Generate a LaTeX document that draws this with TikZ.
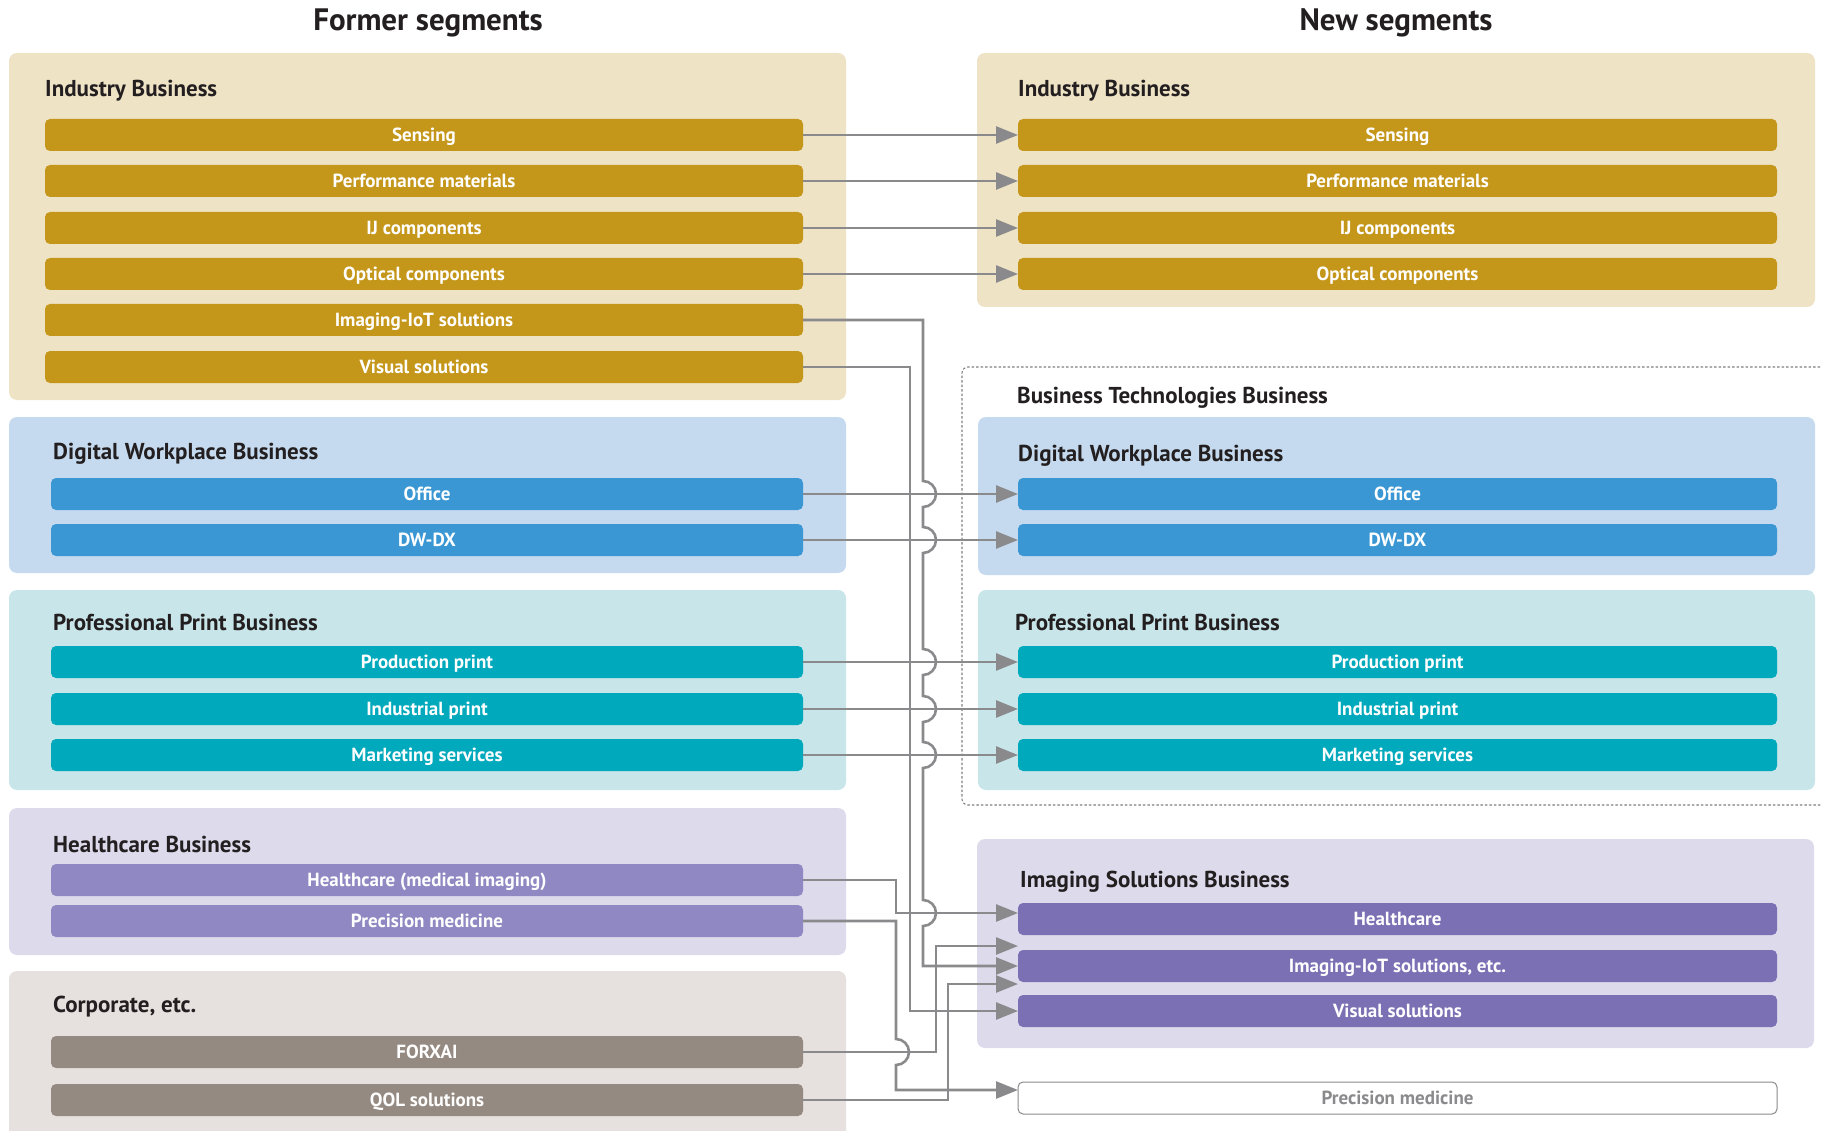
\documentclass[tikz,border=0pt]{standalone}
\usepackage{fontspec}
\setmainfont{PT Sans}
\usetikzlibrary{arrows.meta}
\definecolor{indbg}{HTML}{EFE3C6}
\definecolor{indbar}{HTML}{C4961A}
\definecolor{dwbg}{HTML}{C5DAEE}
\definecolor{dwbar}{HTML}{3A97D3}
\definecolor{ppbg}{HTML}{C8E6EA}
\definecolor{ppbar}{HTML}{00A9BC}
\definecolor{hcbg}{HTML}{DDDAEC}
\definecolor{hcbar}{HTML}{9088C2}
\definecolor{isbar}{HTML}{7B70B3}
\definecolor{cobg}{HTML}{E6E1DE}
\definecolor{cobar}{HTML}{958A82}
\definecolor{connc}{HTML}{8A8A8C}
\definecolor{ink}{HTML}{231F20}
\begin{document}
\begin{tikzpicture}[x=1pt,y=-1pt,
  grp/.style={rounded corners=8pt, inner sep=0pt, outer sep=0pt, anchor=north west, draw=none},
  sbar/.style={rounded corners=5pt, minimum height=32pt, inner sep=0pt, outer sep=0pt, text=white, font=\bfseries\fontsize{19}{22}\selectfont, text height=13pt, text depth=0pt, anchor=center},
  lbar/.style={sbar, minimum width=752pt},
  libar/.style={sbar, minimum width=758pt},
  rbar/.style={sbar, minimum width=759pt},
  gtitle/.style={anchor=west, inner sep=0pt, text=ink, font=\bfseries\fontsize{23}{27}\selectfont, text height=16pt, text depth=0pt},
  htitle/.style={anchor=center, inner sep=0pt, text=ink, font=\bfseries\fontsize{31}{36}\selectfont, text height=22pt, text depth=0pt},
  link/.style={draw=connc, line width=2.6pt, -{Triangle[length=22pt,width=17pt]}},
]
\useasboundingbox (0,0) rectangle (1822,1131);
\clip (0,0) rectangle (1822,1131);

% headers
\node[htitle] (hFormer) at (428,20) {Former segments};
\node[htitle] (hNew) at (1396,20) {New segments};

% left group boxes
\node[grp, fill=indbg, minimum width=837pt, minimum height=347pt] (lIndBox) at (9,53) {};
\node[grp, fill=dwbg, minimum width=837pt, minimum height=156pt] (lDWBox) at (9,417) {};
\node[grp, fill=ppbg, minimum width=837pt, minimum height=200pt] (lPPBox) at (9,590) {};
\node[grp, fill=hcbg, minimum width=837pt, minimum height=147pt] (lHCBox) at (9,808) {};
\node[grp, fill=cobg, minimum width=837pt, minimum height=180pt] (lCoBox) at (9,971) {};

% right group boxes
\node[grp, fill=indbg, minimum width=838pt, minimum height=254pt] (rIndBox) at (977,53) {};
\node[grp, draw=gray, dash pattern=on 2.5pt off 2pt, line width=1.1pt, rounded corners=6pt, minimum width=900pt, minimum height=438pt] (btBox) at (962,367) {};
\node[grp, fill=dwbg, minimum width=837pt, minimum height=158pt] (rDWBox) at (978,417) {};
\node[grp, fill=ppbg, minimum width=837pt, minimum height=200pt] (rPPBox) at (978,590) {};
\node[grp, fill=hcbg, minimum width=837pt, minimum height=209pt] (rISBox) at (977,839) {};

% titles
\node[gtitle] (tLInd) at (45,89) {Industry Business};
\node[gtitle] (tLDW) at (53,451) {Digital Workplace Business};
\node[gtitle] (tLPP) at (53,622) {Professional Print Business};
\node[gtitle] (tLHC) at (53,844) {Healthcare Business};
\node[gtitle] (tLCo) at (53,1004) {Corporate, etc.};
\node[gtitle] (tRInd) at (1018,89) {Industry Business};
\node[gtitle] (tRBT) at (1017,395) {Business Technologies Business};
\node[gtitle] (tRDW) at (1018,453) {Digital Workplace Business};
\node[gtitle] (tRPP) at (1015,622) {Professional Print Business};
\node[gtitle] (tRIS) at (1020,879) {Imaging Solutions Business};

% left bars
\node[libar, fill=indbar] (lSens) at (424,135) {Sensing};
\node[libar, fill=indbar] (lPerf) at (424,181) {Performance materials};
\node[libar, fill=indbar] (lIJ) at (424,228) {IJ components};
\node[libar, fill=indbar] (lOpt) at (424,274) {Optical components};
\node[libar, fill=indbar] (lIoT) at (424,320) {Imaging-IoT solutions};
\node[libar, fill=indbar] (lVis) at (424,367) {Visual solutions};
\node[lbar, fill=dwbar] (lOff) at (427,494) {Office};
\node[lbar, fill=dwbar] (lDX) at (427,540) {DW-DX};
\node[lbar, fill=ppbar] (lProd) at (427,662) {Production print};
\node[lbar, fill=ppbar] (lInd) at (427,709) {Industrial print};
\node[lbar, fill=ppbar] (lMkt) at (427,755) {Marketing services};
\node[lbar, fill=hcbar] (lHC) at (427,880) {Healthcare (medical imaging)};
\node[lbar, fill=hcbar] (lPrec) at (427,921) {Precision medicine};
\node[lbar, fill=cobar] (lFOR) at (427,1052) {FORXAI};
\node[lbar, fill=cobar] (lQOL) at (427,1100) {QOL solutions};

% right bars
\node[rbar, fill=indbar] (rSens) at (1397.5,135) {Sensing};
\node[rbar, fill=indbar] (rPerf) at (1397.5,181) {Performance materials};
\node[rbar, fill=indbar] (rIJ) at (1397.5,228) {IJ components};
\node[rbar, fill=indbar] (rOpt) at (1397.5,274) {Optical components};
\node[rbar, fill=dwbar] (rOff) at (1397.5,494) {Office};
\node[rbar, fill=dwbar] (rDX) at (1397.5,540) {DW-DX};
\node[rbar, fill=ppbar] (rProd) at (1397.5,662) {Production print};
\node[rbar, fill=ppbar] (rInd) at (1397.5,709) {Industrial print};
\node[rbar, fill=ppbar] (rMkt) at (1397.5,755) {Marketing services};
\node[rbar, fill=isbar] (rHC) at (1397.5,919) {Healthcare};
\node[rbar, fill=isbar] (rIoT) at (1397.5,966) {Imaging-IoT solutions, etc.};
\node[rbar, fill=isbar] (rVis) at (1397.5,1011) {Visual solutions};
\node[rbar, fill=white, draw=connc, line width=1pt, text=connc] (rPrec) at (1397.5,1098) {Precision medicine};

% straight connectors
\draw[link] (lSens.east) -- (rSens.west);
\draw[link] (lPerf.east) -- (rPerf.west);
\draw[link] (lIJ.east) -- (rIJ.west);
\draw[link] (lOpt.east) -- (rOpt.west);
\draw[link] (lOff.east) -- (rOff.west);
\draw[link] (lDX.east) -- (rDX.west);
\draw[link] (lProd.east) -- (rProd.west);
\draw[link] (lInd.east) -- (rInd.west);
\draw[link] (lMkt.east) -- (rMkt.west);

% routed connectors
\draw[link] (lVis.east) -- (910,367) -- (910,1011) -- (rVis.west);
\draw[link] (lHC.east) -- (896,880) -- (896,913) -- ([yshift=6pt]rHC.west);
\draw[link] (lIoT.east) -- (923,320)
  -- (923,481) arc[start angle=90,end angle=-90,radius=13pt]
  -- (923,527) arc[start angle=90,end angle=-90,radius=13pt]
  -- (923,649) arc[start angle=90,end angle=-90,radius=13pt]
  -- (923,696) arc[start angle=90,end angle=-90,radius=13pt]
  -- (923,742) arc[start angle=90,end angle=-90,radius=13pt]
  -- (923,900) arc[start angle=90,end angle=-90,radius=13pt]
  -- (923,966) -- (rIoT.west);
\draw[link] (lFOR.east) -- (936,1052) -- (936,946) -- ([yshift=20pt]rIoT.west);
\draw[link] (lQOL.east) -- (948,1100) -- (948,984) -- ([yshift=-18pt]rIoT.west);
\draw[link] (lPrec.east) -- (896,921)
  -- (896,1039) arc[start angle=90,end angle=-90,radius=13pt]
  -- (896,1090) -- ([yshift=8pt]rPrec.west);
\end{tikzpicture}
\end{document}
